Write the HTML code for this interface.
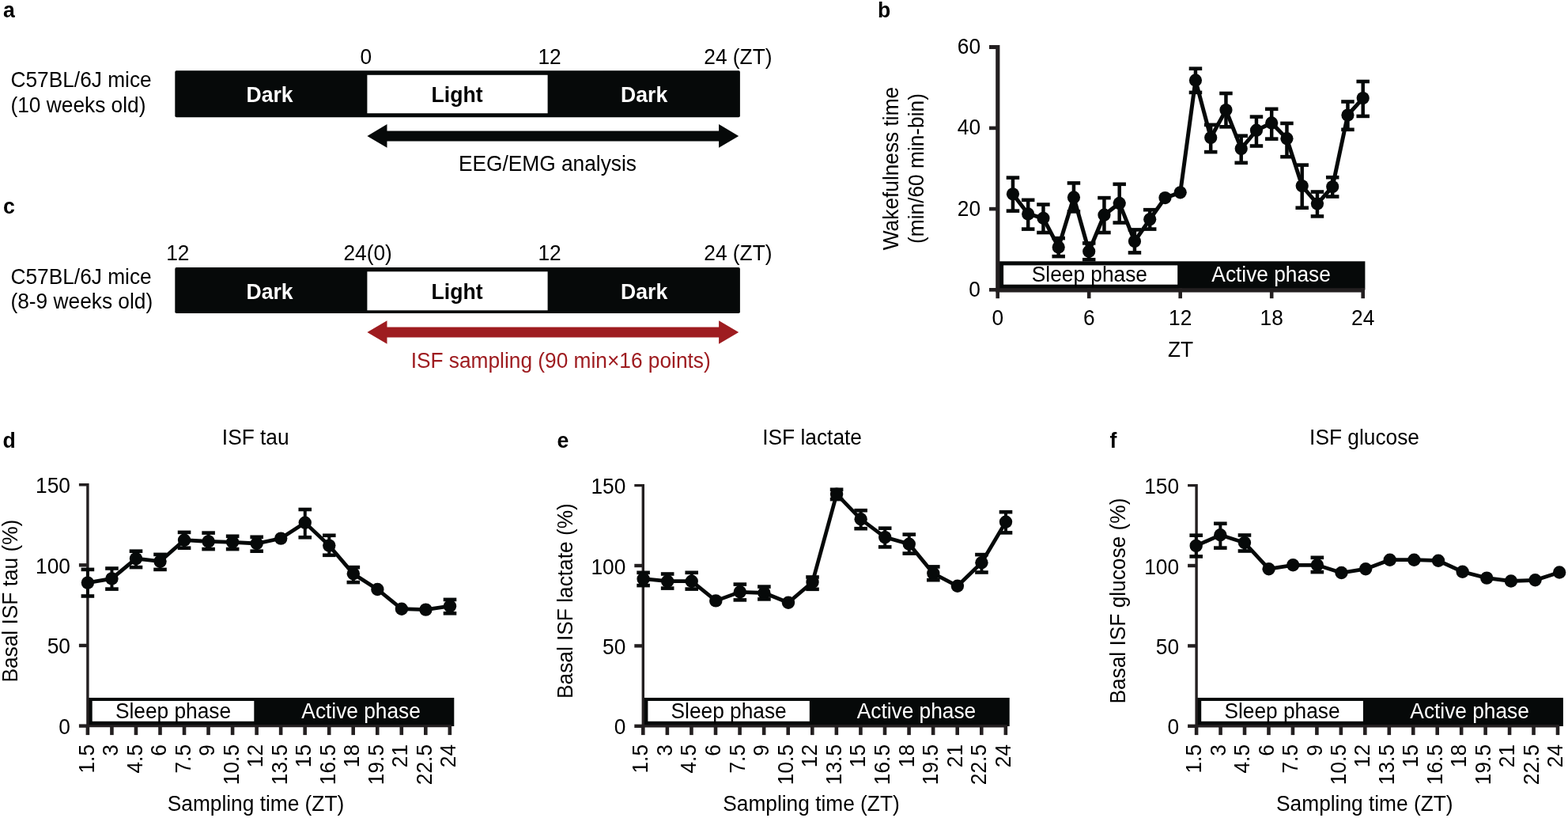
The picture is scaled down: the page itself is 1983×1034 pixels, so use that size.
<!DOCTYPE html>
<html><head><meta charset="utf-8"><title>Figure</title>
<style>
html,body{margin:0;padding:0;background:#fff;}
body{width:1983px;height:1034px;overflow:hidden;}
svg{display:block;font-family:'Liberation Sans', sans-serif;}
</style></head>
<body>
<svg width="1983" height="1034" viewBox="0 0 1983 1034">
<rect width="1983" height="1034" fill="#fff"/>
<text transform="translate(4.00,21.70) scale(0.9615,1)" text-anchor="start" font-size="27.66" font-weight="bold" fill="#000" >a</text>
<text transform="translate(13.50,110.20) scale(0.9615,1)" text-anchor="start" font-size="27.35" fill="#000" >C57BL/6J mice</text>
<text transform="translate(13.50,142.40) scale(0.9615,1)" text-anchor="start" font-size="27.35" fill="#000" >(10 weeks old)</text>
<text transform="translate(462.80,81.00) scale(0.9615,1)" text-anchor="middle" font-size="27.35" fill="#000" >0</text>
<text transform="translate(695.00,81.00) scale(0.9615,1)" text-anchor="middle" font-size="27.35" fill="#000" >12</text>
<text transform="translate(890.30,81.00) scale(0.9615,1)" text-anchor="start" font-size="27.35" fill="#000" >24 (ZT)</text>
<rect x="221.3" y="89.2" width="714.60" height="59.00" rx="1.8" fill="#060909"/>
<rect x="464.40" y="94.80" width="228.20" height="48.40" fill="#fff"/>
<text transform="translate(341.00,129.10) scale(0.9615,1)" text-anchor="middle" font-size="27.66" font-weight="bold" fill="#fff" >Dark</text>
<text transform="translate(578.10,129.10) scale(0.9615,1)" text-anchor="middle" font-size="27.66" font-weight="bold" fill="#000" >Light</text>
<text transform="translate(814.60,129.10) scale(0.9615,1)" text-anchor="middle" font-size="27.66" font-weight="bold" fill="#fff" >Dark</text>
<path d="M464.4,171.9 L489.5,157.1 L489.5,165.4 L909.1,165.4 L909.1,157.1 L934.2,171.9 L909.1,186.70000000000002 L909.1,178.4 L489.5,178.4 L489.5,186.70000000000002 Z" fill="#060909"/>
<text transform="translate(692.50,216.30) scale(0.9615,1)" text-anchor="middle" font-size="27.35" fill="#000" >EEG/EMG analysis</text>
<text transform="translate(4.00,270.30) scale(0.9615,1)" text-anchor="start" font-size="27.66" font-weight="bold" fill="#000" >c</text>
<text transform="translate(13.50,358.50) scale(0.9615,1)" text-anchor="start" font-size="27.35" fill="#000" >C57BL/6J mice</text>
<text transform="translate(13.50,390.20) scale(0.9615,1)" text-anchor="start" font-size="27.35" fill="#000" >(8-9 weeks old)</text>
<text transform="translate(224.80,328.80) scale(0.9615,1)" text-anchor="middle" font-size="27.35" fill="#000" >12</text>
<text transform="translate(434.50,328.80) scale(0.9615,1)" text-anchor="start" font-size="27.35" fill="#000" >24(0)</text>
<text transform="translate(695.00,328.80) scale(0.9615,1)" text-anchor="middle" font-size="27.35" fill="#000" >12</text>
<text transform="translate(890.30,328.80) scale(0.9615,1)" text-anchor="start" font-size="27.35" fill="#000" >24 (ZT)</text>
<rect x="221.3" y="338.1" width="714.60" height="58.00" rx="1.8" fill="#060909"/>
<rect x="464.40" y="343.30" width="228.20" height="49.00" fill="#fff"/>
<text transform="translate(341.00,378.20) scale(0.9615,1)" text-anchor="middle" font-size="27.66" font-weight="bold" fill="#fff" >Dark</text>
<text transform="translate(578.10,378.20) scale(0.9615,1)" text-anchor="middle" font-size="27.66" font-weight="bold" fill="#000" >Light</text>
<text transform="translate(814.60,378.20) scale(0.9615,1)" text-anchor="middle" font-size="27.66" font-weight="bold" fill="#fff" >Dark</text>
<path d="M464.4,420.0 L489.5,405.2 L489.5,413.5 L909.1,413.5 L909.1,405.2 L934.2,420.0 L909.1,434.8 L909.1,426.5 L489.5,426.5 L489.5,434.8 Z" fill="#9e1c20"/>
<text transform="translate(709.20,464.90) scale(0.9615,1)" text-anchor="middle" font-size="27.35" fill="#9e1c20" >ISF sampling (90 min×16 points)</text>
<text transform="translate(1110.00,21.70) scale(0.9615,1)" text-anchor="start" font-size="27.66" font-weight="bold" fill="#000" >b</text>
<rect x="1261.70" y="330.30" width="464.70" height="36.20" fill="#060909"/>
<rect x="1269.10" y="335.40" width="220.10" height="24.30" fill="#fff"/>
<text transform="translate(1377.90,356.00) scale(0.9615,1)" text-anchor="middle" font-size="27.35" fill="#000" >Sleep phase</text>
<text transform="translate(1607.60,356.00) scale(0.9615,1)" text-anchor="middle" font-size="27.35" fill="#fff" >Active phase</text>
<path d="M1251,59.5 H1261.8 V366.8 H1726" fill="none" stroke="#231f20" stroke-width="5.2"/>
<line x1="1251" y1="161.90" x2="1262" y2="161.90" stroke="#231f20" stroke-width="4.6"/>
<line x1="1251" y1="264.10" x2="1262" y2="264.10" stroke="#231f20" stroke-width="4.6"/>
<line x1="1251" y1="366.30" x2="1262" y2="366.30" stroke="#231f20" stroke-width="4.6"/>
<line x1="1261.70" y1="364" x2="1261.70" y2="377.2" stroke="#231f20" stroke-width="4.6"/>
<text transform="translate(1261.70,411.00) scale(0.9615,1)" text-anchor="middle" font-size="27.35" fill="#000" >0</text>
<line x1="1377.20" y1="364" x2="1377.20" y2="377.2" stroke="#231f20" stroke-width="4.6"/>
<text transform="translate(1377.20,411.00) scale(0.9615,1)" text-anchor="middle" font-size="27.35" fill="#000" >6</text>
<line x1="1492.70" y1="364" x2="1492.70" y2="377.2" stroke="#231f20" stroke-width="4.6"/>
<text transform="translate(1492.70,411.00) scale(0.9615,1)" text-anchor="middle" font-size="27.35" fill="#000" >12</text>
<line x1="1608.20" y1="364" x2="1608.20" y2="377.2" stroke="#231f20" stroke-width="4.6"/>
<text transform="translate(1608.20,411.00) scale(0.9615,1)" text-anchor="middle" font-size="27.35" fill="#000" >18</text>
<line x1="1723.70" y1="364" x2="1723.70" y2="377.2" stroke="#231f20" stroke-width="4.6"/>
<text transform="translate(1723.70,411.00) scale(0.9615,1)" text-anchor="middle" font-size="27.35" fill="#000" >24</text>
<text transform="translate(1240.00,68.20) scale(0.9615,1)" text-anchor="end" font-size="27.35" fill="#000" >60</text>
<text transform="translate(1240.00,170.40) scale(0.9615,1)" text-anchor="end" font-size="27.35" fill="#000" >40</text>
<text transform="translate(1240.00,272.60) scale(0.9615,1)" text-anchor="end" font-size="27.35" fill="#000" >20</text>
<text transform="translate(1240.00,374.80) scale(0.9615,1)" text-anchor="end" font-size="27.35" fill="#000" >0</text>
<text transform="translate(1493.00,450.90) scale(0.9615,1)" text-anchor="middle" font-size="27.35" fill="#000" >ZT</text>
<text transform="translate(1136.00,213.00) rotate(-90) scale(0.9615,1)" text-anchor="middle" font-size="27.35" fill="#000" >Wakefulness time</text>
<text transform="translate(1167.90,213.00) rotate(-90) scale(0.9615,1)" text-anchor="middle" font-size="27.35" fill="#000" >(min/60 min-bin)</text>
<line x1="1280.95" y1="224.60" x2="1280.95" y2="266.60" stroke="#060909" stroke-width="4.5"/>
<line x1="1272.70" y1="224.60" x2="1289.20" y2="224.60" stroke="#060909" stroke-width="4.6"/>
<line x1="1272.70" y1="266.60" x2="1289.20" y2="266.60" stroke="#060909" stroke-width="4.6"/>
<line x1="1300.20" y1="252.80" x2="1300.20" y2="289.60" stroke="#060909" stroke-width="4.5"/>
<line x1="1291.95" y1="252.80" x2="1308.45" y2="252.80" stroke="#060909" stroke-width="4.6"/>
<line x1="1291.95" y1="289.60" x2="1308.45" y2="289.60" stroke="#060909" stroke-width="4.6"/>
<line x1="1319.45" y1="258.50" x2="1319.45" y2="294.00" stroke="#060909" stroke-width="4.5"/>
<line x1="1311.20" y1="258.50" x2="1327.70" y2="258.50" stroke="#060909" stroke-width="4.6"/>
<line x1="1311.20" y1="294.00" x2="1327.70" y2="294.00" stroke="#060909" stroke-width="4.6"/>
<line x1="1338.70" y1="301.10" x2="1338.70" y2="324.10" stroke="#060909" stroke-width="4.5"/>
<line x1="1330.45" y1="301.10" x2="1346.95" y2="301.10" stroke="#060909" stroke-width="4.6"/>
<line x1="1330.45" y1="324.10" x2="1346.95" y2="324.10" stroke="#060909" stroke-width="4.6"/>
<line x1="1357.95" y1="231.40" x2="1357.95" y2="267.40" stroke="#060909" stroke-width="4.5"/>
<line x1="1349.70" y1="231.40" x2="1366.20" y2="231.40" stroke="#060909" stroke-width="4.6"/>
<line x1="1349.70" y1="267.40" x2="1366.20" y2="267.40" stroke="#060909" stroke-width="4.6"/>
<line x1="1377.20" y1="307.40" x2="1377.20" y2="328.20" stroke="#060909" stroke-width="4.5"/>
<line x1="1368.95" y1="307.40" x2="1385.45" y2="307.40" stroke="#060909" stroke-width="4.6"/>
<line x1="1368.95" y1="328.20" x2="1385.45" y2="328.20" stroke="#060909" stroke-width="4.6"/>
<line x1="1396.45" y1="250.10" x2="1396.45" y2="294.00" stroke="#060909" stroke-width="4.5"/>
<line x1="1388.20" y1="250.10" x2="1404.70" y2="250.10" stroke="#060909" stroke-width="4.6"/>
<line x1="1388.20" y1="294.00" x2="1404.70" y2="294.00" stroke="#060909" stroke-width="4.6"/>
<line x1="1415.70" y1="232.80" x2="1415.70" y2="281.50" stroke="#060909" stroke-width="4.5"/>
<line x1="1407.45" y1="232.80" x2="1423.95" y2="232.80" stroke="#060909" stroke-width="4.6"/>
<line x1="1407.45" y1="281.50" x2="1423.95" y2="281.50" stroke="#060909" stroke-width="4.6"/>
<line x1="1434.95" y1="290.40" x2="1434.95" y2="319.40" stroke="#060909" stroke-width="4.5"/>
<line x1="1426.70" y1="290.40" x2="1443.20" y2="290.40" stroke="#060909" stroke-width="4.6"/>
<line x1="1426.70" y1="319.40" x2="1443.20" y2="319.40" stroke="#060909" stroke-width="4.6"/>
<line x1="1454.20" y1="265.20" x2="1454.20" y2="289.60" stroke="#060909" stroke-width="4.5"/>
<line x1="1445.95" y1="265.20" x2="1462.45" y2="265.20" stroke="#060909" stroke-width="4.6"/>
<line x1="1445.95" y1="289.60" x2="1462.45" y2="289.60" stroke="#060909" stroke-width="4.6"/>
<line x1="1511.95" y1="86.70" x2="1511.95" y2="116.90" stroke="#060909" stroke-width="4.5"/>
<line x1="1503.70" y1="86.70" x2="1520.20" y2="86.70" stroke="#060909" stroke-width="4.6"/>
<line x1="1503.70" y1="116.90" x2="1520.20" y2="116.90" stroke="#060909" stroke-width="4.6"/>
<line x1="1531.20" y1="157.80" x2="1531.20" y2="192.10" stroke="#060909" stroke-width="4.5"/>
<line x1="1522.95" y1="157.80" x2="1539.45" y2="157.80" stroke="#060909" stroke-width="4.6"/>
<line x1="1522.95" y1="192.10" x2="1539.45" y2="192.10" stroke="#060909" stroke-width="4.6"/>
<line x1="1550.45" y1="118.00" x2="1550.45" y2="160.30" stroke="#060909" stroke-width="4.5"/>
<line x1="1542.20" y1="118.00" x2="1558.70" y2="118.00" stroke="#060909" stroke-width="4.6"/>
<line x1="1542.20" y1="160.30" x2="1558.70" y2="160.30" stroke="#060909" stroke-width="4.6"/>
<line x1="1569.70" y1="171.70" x2="1569.70" y2="205.80" stroke="#060909" stroke-width="4.5"/>
<line x1="1561.45" y1="171.70" x2="1577.95" y2="171.70" stroke="#060909" stroke-width="4.6"/>
<line x1="1561.45" y1="205.80" x2="1577.95" y2="205.80" stroke="#060909" stroke-width="4.6"/>
<line x1="1588.95" y1="147.60" x2="1588.95" y2="184.50" stroke="#060909" stroke-width="4.5"/>
<line x1="1580.70" y1="147.60" x2="1597.20" y2="147.60" stroke="#060909" stroke-width="4.6"/>
<line x1="1580.70" y1="184.50" x2="1597.20" y2="184.50" stroke="#060909" stroke-width="4.6"/>
<line x1="1608.20" y1="137.80" x2="1608.20" y2="175.60" stroke="#060909" stroke-width="4.5"/>
<line x1="1599.95" y1="137.80" x2="1616.45" y2="137.80" stroke="#060909" stroke-width="4.6"/>
<line x1="1599.95" y1="175.60" x2="1616.45" y2="175.60" stroke="#060909" stroke-width="4.6"/>
<line x1="1627.45" y1="155.90" x2="1627.45" y2="198.20" stroke="#060909" stroke-width="4.5"/>
<line x1="1619.20" y1="155.90" x2="1635.70" y2="155.90" stroke="#060909" stroke-width="4.6"/>
<line x1="1619.20" y1="198.20" x2="1635.70" y2="198.20" stroke="#060909" stroke-width="4.6"/>
<line x1="1646.70" y1="208.60" x2="1646.70" y2="262.70" stroke="#060909" stroke-width="4.5"/>
<line x1="1638.45" y1="208.60" x2="1654.95" y2="208.60" stroke="#060909" stroke-width="4.6"/>
<line x1="1638.45" y1="262.70" x2="1654.95" y2="262.70" stroke="#060909" stroke-width="4.6"/>
<line x1="1665.95" y1="242.50" x2="1665.95" y2="273.40" stroke="#060909" stroke-width="4.5"/>
<line x1="1657.70" y1="242.50" x2="1674.20" y2="242.50" stroke="#060909" stroke-width="4.6"/>
<line x1="1657.70" y1="273.40" x2="1674.20" y2="273.40" stroke="#060909" stroke-width="4.6"/>
<line x1="1685.20" y1="224.20" x2="1685.20" y2="248.50" stroke="#060909" stroke-width="4.5"/>
<line x1="1676.95" y1="224.20" x2="1693.45" y2="224.20" stroke="#060909" stroke-width="4.6"/>
<line x1="1676.95" y1="248.50" x2="1693.45" y2="248.50" stroke="#060909" stroke-width="4.6"/>
<line x1="1704.45" y1="128.50" x2="1704.45" y2="163.80" stroke="#060909" stroke-width="4.5"/>
<line x1="1696.20" y1="128.50" x2="1712.70" y2="128.50" stroke="#060909" stroke-width="4.6"/>
<line x1="1696.20" y1="163.80" x2="1712.70" y2="163.80" stroke="#060909" stroke-width="4.6"/>
<line x1="1723.70" y1="103.00" x2="1723.70" y2="146.90" stroke="#060909" stroke-width="4.5"/>
<line x1="1715.45" y1="103.00" x2="1731.95" y2="103.00" stroke="#060909" stroke-width="4.6"/>
<line x1="1715.45" y1="146.90" x2="1731.95" y2="146.90" stroke="#060909" stroke-width="4.6"/>
<polyline points="1280.95,245.30 1300.20,270.40 1319.45,275.80 1338.70,312.40 1357.95,249.40 1377.20,317.80 1396.45,271.70 1415.70,256.90 1434.95,304.90 1454.20,277.20 1473.45,250.10 1492.70,243.30 1511.95,101.40 1531.20,174.00 1550.45,139.00 1569.70,188.00 1588.95,164.70 1608.20,155.40 1627.45,175.20 1646.70,235.10 1665.95,257.60 1685.20,236.00 1704.45,145.50 1723.70,124.10" fill="none" stroke="#060909" stroke-width="5.0" stroke-linejoin="miter"/>
<circle cx="1280.95" cy="245.30" r="8.1" fill="#060909"/>
<circle cx="1300.20" cy="270.40" r="8.1" fill="#060909"/>
<circle cx="1319.45" cy="275.80" r="8.1" fill="#060909"/>
<circle cx="1338.70" cy="312.40" r="8.1" fill="#060909"/>
<circle cx="1357.95" cy="249.40" r="8.1" fill="#060909"/>
<circle cx="1377.20" cy="317.80" r="8.1" fill="#060909"/>
<circle cx="1396.45" cy="271.70" r="8.1" fill="#060909"/>
<circle cx="1415.70" cy="256.90" r="8.1" fill="#060909"/>
<circle cx="1434.95" cy="304.90" r="8.1" fill="#060909"/>
<circle cx="1454.20" cy="277.20" r="8.1" fill="#060909"/>
<circle cx="1473.45" cy="250.10" r="8.1" fill="#060909"/>
<circle cx="1492.70" cy="243.30" r="8.1" fill="#060909"/>
<circle cx="1511.95" cy="101.40" r="8.1" fill="#060909"/>
<circle cx="1531.20" cy="174.00" r="8.1" fill="#060909"/>
<circle cx="1550.45" cy="139.00" r="8.1" fill="#060909"/>
<circle cx="1569.70" cy="188.00" r="8.1" fill="#060909"/>
<circle cx="1588.95" cy="164.70" r="8.1" fill="#060909"/>
<circle cx="1608.20" cy="155.40" r="8.1" fill="#060909"/>
<circle cx="1627.45" cy="175.20" r="8.1" fill="#060909"/>
<circle cx="1646.70" cy="235.10" r="8.1" fill="#060909"/>
<circle cx="1665.95" cy="257.60" r="8.1" fill="#060909"/>
<circle cx="1685.20" cy="236.00" r="8.1" fill="#060909"/>
<circle cx="1704.45" cy="145.50" r="8.1" fill="#060909"/>
<circle cx="1723.70" cy="124.10" r="8.1" fill="#060909"/>
<text transform="translate(3.50,565.90) scale(0.9615,1)" text-anchor="start" font-size="27.66" font-weight="bold" fill="#000" >d</text>
<text transform="translate(323.20,562.30) scale(0.9615,1)" text-anchor="middle" font-size="27.35" fill="#000" >ISF tau</text>
<rect x="110.90" y="882.00" width="463.40" height="36.00" fill="#060909"/>
<rect x="116.70" y="886.00" width="204.60" height="25.80" fill="#fff"/>
<text transform="translate(219.00,907.80) scale(0.9615,1)" text-anchor="middle" font-size="27.35" fill="#000" >Sleep phase</text>
<text transform="translate(456.60,907.80) scale(0.9615,1)" text-anchor="middle" font-size="27.35" fill="#fff" >Active phase</text>
<path d="M99.9,612.7 H110.9 V917.59 H570.35" fill="none" stroke="#231f20" stroke-width="3.4"/>
<text transform="translate(88.90,623.20) scale(0.9615,1)" text-anchor="end" font-size="27.35" fill="#000" >150</text>
<line x1="99.9" y1="714.33" x2="110.9" y2="714.33" stroke="#231f20" stroke-width="4.4"/>
<text transform="translate(88.90,724.83) scale(0.9615,1)" text-anchor="end" font-size="27.35" fill="#000" >100</text>
<line x1="99.9" y1="815.96" x2="110.9" y2="815.96" stroke="#231f20" stroke-width="4.4"/>
<text transform="translate(88.90,826.46) scale(0.9615,1)" text-anchor="end" font-size="27.35" fill="#000" >50</text>
<line x1="99.9" y1="917.59" x2="110.9" y2="917.59" stroke="#231f20" stroke-width="4.4"/>
<text transform="translate(88.90,928.09) scale(0.9615,1)" text-anchor="end" font-size="27.35" fill="#000" >0</text>
<line x1="110.90" y1="916.59" x2="110.90" y2="929.1" stroke="#231f20" stroke-width="4.6"/>
<text transform="translate(118.50,941.00) rotate(-90) scale(0.9615,1)" text-anchor="end" font-size="27.35" fill="#000" >1.5</text>
<line x1="141.43" y1="916.59" x2="141.43" y2="929.1" stroke="#231f20" stroke-width="4.6"/>
<text transform="translate(149.03,941.00) rotate(-90) scale(0.9615,1)" text-anchor="end" font-size="27.35" fill="#000" >3</text>
<line x1="171.96" y1="916.59" x2="171.96" y2="929.1" stroke="#231f20" stroke-width="4.6"/>
<text transform="translate(179.56,941.00) rotate(-90) scale(0.9615,1)" text-anchor="end" font-size="27.35" fill="#000" >4.5</text>
<line x1="202.49" y1="916.59" x2="202.49" y2="929.1" stroke="#231f20" stroke-width="4.6"/>
<text transform="translate(210.09,941.00) rotate(-90) scale(0.9615,1)" text-anchor="end" font-size="27.35" fill="#000" >6</text>
<line x1="233.02" y1="916.59" x2="233.02" y2="929.1" stroke="#231f20" stroke-width="4.6"/>
<text transform="translate(240.62,941.00) rotate(-90) scale(0.9615,1)" text-anchor="end" font-size="27.35" fill="#000" >7.5</text>
<line x1="263.55" y1="916.59" x2="263.55" y2="929.1" stroke="#231f20" stroke-width="4.6"/>
<text transform="translate(271.15,941.00) rotate(-90) scale(0.9615,1)" text-anchor="end" font-size="27.35" fill="#000" >9</text>
<line x1="294.08" y1="916.59" x2="294.08" y2="929.1" stroke="#231f20" stroke-width="4.6"/>
<text transform="translate(301.68,941.00) rotate(-90) scale(0.9615,1)" text-anchor="end" font-size="27.35" fill="#000" >10.5</text>
<line x1="324.61" y1="916.59" x2="324.61" y2="929.1" stroke="#231f20" stroke-width="4.6"/>
<text transform="translate(332.21,941.00) rotate(-90) scale(0.9615,1)" text-anchor="end" font-size="27.35" fill="#000" >12</text>
<line x1="355.14" y1="916.59" x2="355.14" y2="929.1" stroke="#231f20" stroke-width="4.6"/>
<text transform="translate(362.74,941.00) rotate(-90) scale(0.9615,1)" text-anchor="end" font-size="27.35" fill="#000" >13.5</text>
<line x1="385.67" y1="916.59" x2="385.67" y2="929.1" stroke="#231f20" stroke-width="4.6"/>
<text transform="translate(393.27,941.00) rotate(-90) scale(0.9615,1)" text-anchor="end" font-size="27.35" fill="#000" >15</text>
<line x1="416.20" y1="916.59" x2="416.20" y2="929.1" stroke="#231f20" stroke-width="4.6"/>
<text transform="translate(423.80,941.00) rotate(-90) scale(0.9615,1)" text-anchor="end" font-size="27.35" fill="#000" >16.5</text>
<line x1="446.73" y1="916.59" x2="446.73" y2="929.1" stroke="#231f20" stroke-width="4.6"/>
<text transform="translate(454.33,941.00) rotate(-90) scale(0.9615,1)" text-anchor="end" font-size="27.35" fill="#000" >18</text>
<line x1="477.26" y1="916.59" x2="477.26" y2="929.1" stroke="#231f20" stroke-width="4.6"/>
<text transform="translate(484.86,941.00) rotate(-90) scale(0.9615,1)" text-anchor="end" font-size="27.35" fill="#000" >19.5</text>
<line x1="507.79" y1="916.59" x2="507.79" y2="929.1" stroke="#231f20" stroke-width="4.6"/>
<text transform="translate(515.39,941.00) rotate(-90) scale(0.9615,1)" text-anchor="end" font-size="27.35" fill="#000" >21</text>
<line x1="538.32" y1="916.59" x2="538.32" y2="929.1" stroke="#231f20" stroke-width="4.6"/>
<text transform="translate(545.92,941.00) rotate(-90) scale(0.9615,1)" text-anchor="end" font-size="27.35" fill="#000" >22.5</text>
<line x1="568.85" y1="916.59" x2="568.85" y2="929.1" stroke="#231f20" stroke-width="4.6"/>
<text transform="translate(576.45,941.00) rotate(-90) scale(0.9615,1)" text-anchor="end" font-size="27.35" fill="#000" >24</text>
<text transform="translate(323.50,1025.20) scale(0.9615,1)" text-anchor="middle" font-size="27.35" fill="#000" >Sampling time (ZT)</text>
<text transform="translate(22.30,759.60) rotate(-90) scale(0.9615,1)" text-anchor="middle" font-size="27.35" fill="#000" >Basal ISF tau (%)</text>
<line x1="110.90" y1="719.90" x2="110.90" y2="753.50" stroke="#060909" stroke-width="4.0"/>
<line x1="102.60" y1="719.90" x2="119.20" y2="719.90" stroke="#060909" stroke-width="4.6"/>
<line x1="102.60" y1="753.50" x2="119.20" y2="753.50" stroke="#060909" stroke-width="4.6"/>
<line x1="141.44" y1="718.50" x2="141.44" y2="744.60" stroke="#060909" stroke-width="4.0"/>
<line x1="133.14" y1="718.50" x2="149.74" y2="718.50" stroke="#060909" stroke-width="4.6"/>
<line x1="133.14" y1="744.60" x2="149.74" y2="744.60" stroke="#060909" stroke-width="4.6"/>
<line x1="171.98" y1="696.70" x2="171.98" y2="717.10" stroke="#060909" stroke-width="4.0"/>
<line x1="163.68" y1="696.70" x2="180.28" y2="696.70" stroke="#060909" stroke-width="4.6"/>
<line x1="163.68" y1="717.10" x2="180.28" y2="717.10" stroke="#060909" stroke-width="4.6"/>
<line x1="202.52" y1="700.90" x2="202.52" y2="719.90" stroke="#060909" stroke-width="4.0"/>
<line x1="194.22" y1="700.90" x2="210.82" y2="700.90" stroke="#060909" stroke-width="4.6"/>
<line x1="194.22" y1="719.90" x2="210.82" y2="719.90" stroke="#060909" stroke-width="4.6"/>
<line x1="233.06" y1="672.90" x2="233.06" y2="692.70" stroke="#060909" stroke-width="4.0"/>
<line x1="224.76" y1="672.90" x2="241.36" y2="672.90" stroke="#060909" stroke-width="4.6"/>
<line x1="224.76" y1="692.70" x2="241.36" y2="692.70" stroke="#060909" stroke-width="4.6"/>
<line x1="263.60" y1="673.60" x2="263.60" y2="694.10" stroke="#060909" stroke-width="4.0"/>
<line x1="255.30" y1="673.60" x2="271.90" y2="673.60" stroke="#060909" stroke-width="4.6"/>
<line x1="255.30" y1="694.10" x2="271.90" y2="694.10" stroke="#060909" stroke-width="4.6"/>
<line x1="294.14" y1="677.80" x2="294.14" y2="694.10" stroke="#060909" stroke-width="4.0"/>
<line x1="285.84" y1="677.80" x2="302.44" y2="677.80" stroke="#060909" stroke-width="4.6"/>
<line x1="285.84" y1="694.10" x2="302.44" y2="694.10" stroke="#060909" stroke-width="4.6"/>
<line x1="324.68" y1="678.80" x2="324.68" y2="696.70" stroke="#060909" stroke-width="4.0"/>
<line x1="316.38" y1="678.80" x2="332.98" y2="678.80" stroke="#060909" stroke-width="4.6"/>
<line x1="316.38" y1="696.70" x2="332.98" y2="696.70" stroke="#060909" stroke-width="4.6"/>
<line x1="385.76" y1="644.00" x2="385.76" y2="679.30" stroke="#060909" stroke-width="4.0"/>
<line x1="377.46" y1="644.00" x2="394.06" y2="644.00" stroke="#060909" stroke-width="4.6"/>
<line x1="377.46" y1="679.30" x2="394.06" y2="679.30" stroke="#060909" stroke-width="4.6"/>
<line x1="416.30" y1="676.80" x2="416.30" y2="701.80" stroke="#060909" stroke-width="4.0"/>
<line x1="408.00" y1="676.80" x2="424.60" y2="676.80" stroke="#060909" stroke-width="4.6"/>
<line x1="408.00" y1="701.80" x2="424.60" y2="701.80" stroke="#060909" stroke-width="4.6"/>
<line x1="446.84" y1="717.10" x2="446.84" y2="736.10" stroke="#060909" stroke-width="4.0"/>
<line x1="438.54" y1="717.10" x2="455.14" y2="717.10" stroke="#060909" stroke-width="4.6"/>
<line x1="438.54" y1="736.10" x2="455.14" y2="736.10" stroke="#060909" stroke-width="4.6"/>
<line x1="569.00" y1="757.90" x2="569.00" y2="775.30" stroke="#060909" stroke-width="4.0"/>
<line x1="560.70" y1="757.90" x2="577.30" y2="757.90" stroke="#060909" stroke-width="4.6"/>
<line x1="560.70" y1="775.30" x2="577.30" y2="775.30" stroke="#060909" stroke-width="4.6"/>
<polyline points="110.90,736.60 141.44,731.40 171.98,706.10 202.52,709.60 233.06,682.70 263.60,684.40 294.14,685.30 324.68,687.00 355.22,680.60 385.76,660.80 416.30,689.60 446.84,725.30 477.38,745.00 507.92,769.70 538.46,770.60 569.00,766.20" fill="none" stroke="#060909" stroke-width="4.8" stroke-linejoin="miter"/>
<circle cx="110.90" cy="736.60" r="8.2" fill="#060909"/>
<circle cx="141.44" cy="731.40" r="8.2" fill="#060909"/>
<circle cx="171.98" cy="706.10" r="8.2" fill="#060909"/>
<circle cx="202.52" cy="709.60" r="8.2" fill="#060909"/>
<circle cx="233.06" cy="682.70" r="8.2" fill="#060909"/>
<circle cx="263.60" cy="684.40" r="8.2" fill="#060909"/>
<circle cx="294.14" cy="685.30" r="8.2" fill="#060909"/>
<circle cx="324.68" cy="687.00" r="8.2" fill="#060909"/>
<circle cx="355.22" cy="680.60" r="8.2" fill="#060909"/>
<circle cx="385.76" cy="660.80" r="8.2" fill="#060909"/>
<circle cx="416.30" cy="689.60" r="8.2" fill="#060909"/>
<circle cx="446.84" cy="725.30" r="8.2" fill="#060909"/>
<circle cx="477.38" cy="745.00" r="8.2" fill="#060909"/>
<circle cx="507.92" cy="769.70" r="8.2" fill="#060909"/>
<circle cx="538.46" cy="770.60" r="8.2" fill="#060909"/>
<circle cx="569.00" cy="766.20" r="8.2" fill="#060909"/>
<text transform="translate(704.50,565.90) scale(0.9615,1)" text-anchor="start" font-size="27.66" font-weight="bold" fill="#000" >e</text>
<text transform="translate(1027.10,562.30) scale(0.9615,1)" text-anchor="middle" font-size="27.35" fill="#000" >ISF lactate</text>
<rect x="813.30" y="882.00" width="463.40" height="36.00" fill="#060909"/>
<rect x="819.40" y="886.00" width="204.40" height="25.80" fill="#fff"/>
<text transform="translate(921.60,907.80) scale(0.9615,1)" text-anchor="middle" font-size="27.35" fill="#000" >Sleep phase</text>
<text transform="translate(1159.00,907.80) scale(0.9615,1)" text-anchor="middle" font-size="27.35" fill="#fff" >Active phase</text>
<path d="M802.3,613.6 H813.3 V917.80 H1273.35" fill="none" stroke="#231f20" stroke-width="3.4"/>
<text transform="translate(791.30,624.10) scale(0.9615,1)" text-anchor="end" font-size="27.35" fill="#000" >150</text>
<line x1="802.3" y1="715.00" x2="813.3" y2="715.00" stroke="#231f20" stroke-width="4.4"/>
<text transform="translate(791.30,725.50) scale(0.9615,1)" text-anchor="end" font-size="27.35" fill="#000" >100</text>
<line x1="802.3" y1="816.40" x2="813.3" y2="816.40" stroke="#231f20" stroke-width="4.4"/>
<text transform="translate(791.30,826.90) scale(0.9615,1)" text-anchor="end" font-size="27.35" fill="#000" >50</text>
<line x1="802.3" y1="917.80" x2="813.3" y2="917.80" stroke="#231f20" stroke-width="4.4"/>
<text transform="translate(791.30,928.30) scale(0.9615,1)" text-anchor="end" font-size="27.35" fill="#000" >0</text>
<line x1="813.30" y1="916.80" x2="813.30" y2="929.1" stroke="#231f20" stroke-width="4.6"/>
<text transform="translate(819.30,941.00) rotate(-90) scale(0.9615,1)" text-anchor="end" font-size="27.35" fill="#000" >1.5</text>
<line x1="843.87" y1="916.80" x2="843.87" y2="929.1" stroke="#231f20" stroke-width="4.6"/>
<text transform="translate(849.87,941.00) rotate(-90) scale(0.9615,1)" text-anchor="end" font-size="27.35" fill="#000" >3</text>
<line x1="874.44" y1="916.80" x2="874.44" y2="929.1" stroke="#231f20" stroke-width="4.6"/>
<text transform="translate(880.44,941.00) rotate(-90) scale(0.9615,1)" text-anchor="end" font-size="27.35" fill="#000" >4.5</text>
<line x1="905.01" y1="916.80" x2="905.01" y2="929.1" stroke="#231f20" stroke-width="4.6"/>
<text transform="translate(911.01,941.00) rotate(-90) scale(0.9615,1)" text-anchor="end" font-size="27.35" fill="#000" >6</text>
<line x1="935.58" y1="916.80" x2="935.58" y2="929.1" stroke="#231f20" stroke-width="4.6"/>
<text transform="translate(941.58,941.00) rotate(-90) scale(0.9615,1)" text-anchor="end" font-size="27.35" fill="#000" >7.5</text>
<line x1="966.15" y1="916.80" x2="966.15" y2="929.1" stroke="#231f20" stroke-width="4.6"/>
<text transform="translate(972.15,941.00) rotate(-90) scale(0.9615,1)" text-anchor="end" font-size="27.35" fill="#000" >9</text>
<line x1="996.72" y1="916.80" x2="996.72" y2="929.1" stroke="#231f20" stroke-width="4.6"/>
<text transform="translate(1002.72,941.00) rotate(-90) scale(0.9615,1)" text-anchor="end" font-size="27.35" fill="#000" >10.5</text>
<line x1="1027.29" y1="916.80" x2="1027.29" y2="929.1" stroke="#231f20" stroke-width="4.6"/>
<text transform="translate(1033.29,941.00) rotate(-90) scale(0.9615,1)" text-anchor="end" font-size="27.35" fill="#000" >12</text>
<line x1="1057.86" y1="916.80" x2="1057.86" y2="929.1" stroke="#231f20" stroke-width="4.6"/>
<text transform="translate(1063.86,941.00) rotate(-90) scale(0.9615,1)" text-anchor="end" font-size="27.35" fill="#000" >13.5</text>
<line x1="1088.43" y1="916.80" x2="1088.43" y2="929.1" stroke="#231f20" stroke-width="4.6"/>
<text transform="translate(1094.43,941.00) rotate(-90) scale(0.9615,1)" text-anchor="end" font-size="27.35" fill="#000" >15</text>
<line x1="1119.00" y1="916.80" x2="1119.00" y2="929.1" stroke="#231f20" stroke-width="4.6"/>
<text transform="translate(1125.00,941.00) rotate(-90) scale(0.9615,1)" text-anchor="end" font-size="27.35" fill="#000" >16.5</text>
<line x1="1149.57" y1="916.80" x2="1149.57" y2="929.1" stroke="#231f20" stroke-width="4.6"/>
<text transform="translate(1155.57,941.00) rotate(-90) scale(0.9615,1)" text-anchor="end" font-size="27.35" fill="#000" >18</text>
<line x1="1180.14" y1="916.80" x2="1180.14" y2="929.1" stroke="#231f20" stroke-width="4.6"/>
<text transform="translate(1186.14,941.00) rotate(-90) scale(0.9615,1)" text-anchor="end" font-size="27.35" fill="#000" >19.5</text>
<line x1="1210.71" y1="916.80" x2="1210.71" y2="929.1" stroke="#231f20" stroke-width="4.6"/>
<text transform="translate(1216.71,941.00) rotate(-90) scale(0.9615,1)" text-anchor="end" font-size="27.35" fill="#000" >21</text>
<line x1="1241.28" y1="916.80" x2="1241.28" y2="929.1" stroke="#231f20" stroke-width="4.6"/>
<text transform="translate(1247.28,941.00) rotate(-90) scale(0.9615,1)" text-anchor="end" font-size="27.35" fill="#000" >22.5</text>
<line x1="1271.85" y1="916.80" x2="1271.85" y2="929.1" stroke="#231f20" stroke-width="4.6"/>
<text transform="translate(1277.85,941.00) rotate(-90) scale(0.9615,1)" text-anchor="end" font-size="27.35" fill="#000" >24</text>
<text transform="translate(1026.00,1025.20) scale(0.9615,1)" text-anchor="middle" font-size="27.35" fill="#000" >Sampling time (ZT)</text>
<text transform="translate(723.60,759.60) rotate(-90) scale(0.9615,1)" text-anchor="middle" font-size="27.35" fill="#000" >Basal ISF lactate (%)</text>
<line x1="813.60" y1="723.80" x2="813.60" y2="740.10" stroke="#060909" stroke-width="4.0"/>
<line x1="805.30" y1="723.80" x2="821.90" y2="723.80" stroke="#060909" stroke-width="4.6"/>
<line x1="805.30" y1="740.10" x2="821.90" y2="740.10" stroke="#060909" stroke-width="4.6"/>
<line x1="844.16" y1="725.50" x2="844.16" y2="743.60" stroke="#060909" stroke-width="4.0"/>
<line x1="835.86" y1="725.50" x2="852.46" y2="725.50" stroke="#060909" stroke-width="4.6"/>
<line x1="835.86" y1="743.60" x2="852.46" y2="743.60" stroke="#060909" stroke-width="4.6"/>
<line x1="874.72" y1="723.80" x2="874.72" y2="744.60" stroke="#060909" stroke-width="4.0"/>
<line x1="866.42" y1="723.80" x2="883.02" y2="723.80" stroke="#060909" stroke-width="4.6"/>
<line x1="866.42" y1="744.60" x2="883.02" y2="744.60" stroke="#060909" stroke-width="4.6"/>
<line x1="935.84" y1="738.60" x2="935.84" y2="758.40" stroke="#060909" stroke-width="4.0"/>
<line x1="927.54" y1="738.60" x2="944.14" y2="738.60" stroke="#060909" stroke-width="4.6"/>
<line x1="927.54" y1="758.40" x2="944.14" y2="758.40" stroke="#060909" stroke-width="4.6"/>
<line x1="966.40" y1="741.60" x2="966.40" y2="757.40" stroke="#060909" stroke-width="4.0"/>
<line x1="958.10" y1="741.60" x2="974.70" y2="741.60" stroke="#060909" stroke-width="4.6"/>
<line x1="958.10" y1="757.40" x2="974.70" y2="757.40" stroke="#060909" stroke-width="4.6"/>
<line x1="1027.52" y1="729.50" x2="1027.52" y2="744.80" stroke="#060909" stroke-width="4.0"/>
<line x1="1019.22" y1="729.50" x2="1035.82" y2="729.50" stroke="#060909" stroke-width="4.6"/>
<line x1="1019.22" y1="744.80" x2="1035.82" y2="744.80" stroke="#060909" stroke-width="4.6"/>
<line x1="1058.08" y1="618.80" x2="1058.08" y2="631.10" stroke="#060909" stroke-width="4.0"/>
<line x1="1049.78" y1="618.80" x2="1066.38" y2="618.80" stroke="#060909" stroke-width="4.6"/>
<line x1="1049.78" y1="631.10" x2="1066.38" y2="631.10" stroke="#060909" stroke-width="4.6"/>
<line x1="1088.64" y1="645.20" x2="1088.64" y2="668.20" stroke="#060909" stroke-width="4.0"/>
<line x1="1080.34" y1="645.20" x2="1096.94" y2="645.20" stroke="#060909" stroke-width="4.6"/>
<line x1="1080.34" y1="668.20" x2="1096.94" y2="668.20" stroke="#060909" stroke-width="4.6"/>
<line x1="1119.20" y1="667.70" x2="1119.20" y2="691.40" stroke="#060909" stroke-width="4.0"/>
<line x1="1110.90" y1="667.70" x2="1127.50" y2="667.70" stroke="#060909" stroke-width="4.6"/>
<line x1="1110.90" y1="691.40" x2="1127.50" y2="691.40" stroke="#060909" stroke-width="4.6"/>
<line x1="1149.76" y1="675.60" x2="1149.76" y2="699.60" stroke="#060909" stroke-width="4.0"/>
<line x1="1141.46" y1="675.60" x2="1158.06" y2="675.60" stroke="#060909" stroke-width="4.6"/>
<line x1="1141.46" y1="699.60" x2="1158.06" y2="699.60" stroke="#060909" stroke-width="4.6"/>
<line x1="1180.32" y1="716.40" x2="1180.32" y2="733.20" stroke="#060909" stroke-width="4.0"/>
<line x1="1172.02" y1="716.40" x2="1188.62" y2="716.40" stroke="#060909" stroke-width="4.6"/>
<line x1="1172.02" y1="733.20" x2="1188.62" y2="733.20" stroke="#060909" stroke-width="4.6"/>
<line x1="1241.44" y1="701.10" x2="1241.44" y2="723.50" stroke="#060909" stroke-width="4.0"/>
<line x1="1233.14" y1="701.10" x2="1249.74" y2="701.10" stroke="#060909" stroke-width="4.6"/>
<line x1="1233.14" y1="723.50" x2="1249.74" y2="723.50" stroke="#060909" stroke-width="4.6"/>
<line x1="1272.00" y1="647.20" x2="1272.00" y2="673.40" stroke="#060909" stroke-width="4.0"/>
<line x1="1263.70" y1="647.20" x2="1280.30" y2="647.20" stroke="#060909" stroke-width="4.6"/>
<line x1="1263.70" y1="673.40" x2="1280.30" y2="673.40" stroke="#060909" stroke-width="4.6"/>
<polyline points="813.60,731.70 844.16,734.70 874.72,734.70 905.28,759.40 935.84,748.30 966.40,749.50 996.96,761.80 1027.52,735.90 1058.08,624.70 1088.64,656.30 1119.20,679.10 1149.76,687.70 1180.32,724.80 1210.88,740.80 1241.44,711.20 1272.00,659.80" fill="none" stroke="#060909" stroke-width="4.8" stroke-linejoin="miter"/>
<circle cx="813.60" cy="731.70" r="8.2" fill="#060909"/>
<circle cx="844.16" cy="734.70" r="8.2" fill="#060909"/>
<circle cx="874.72" cy="734.70" r="8.2" fill="#060909"/>
<circle cx="905.28" cy="759.40" r="8.2" fill="#060909"/>
<circle cx="935.84" cy="748.30" r="8.2" fill="#060909"/>
<circle cx="966.40" cy="749.50" r="8.2" fill="#060909"/>
<circle cx="996.96" cy="761.80" r="8.2" fill="#060909"/>
<circle cx="1027.52" cy="735.90" r="8.2" fill="#060909"/>
<circle cx="1058.08" cy="624.70" r="8.2" fill="#060909"/>
<circle cx="1088.64" cy="656.30" r="8.2" fill="#060909"/>
<circle cx="1119.20" cy="679.10" r="8.2" fill="#060909"/>
<circle cx="1149.76" cy="687.70" r="8.2" fill="#060909"/>
<circle cx="1180.32" cy="724.80" r="8.2" fill="#060909"/>
<circle cx="1210.88" cy="740.80" r="8.2" fill="#060909"/>
<circle cx="1241.44" cy="711.20" r="8.2" fill="#060909"/>
<circle cx="1272.00" cy="659.80" r="8.2" fill="#060909"/>
<text transform="translate(1403.50,565.90) scale(0.9615,1)" text-anchor="start" font-size="27.66" font-weight="bold" fill="#000" >f</text>
<text transform="translate(1725.50,562.30) scale(0.9615,1)" text-anchor="middle" font-size="27.35" fill="#000" >ISF glucose</text>
<rect x="1513.10" y="882.00" width="463.80" height="36.00" fill="#060909"/>
<rect x="1519.20" y="886.00" width="204.70" height="25.80" fill="#fff"/>
<text transform="translate(1621.55,907.80) scale(0.9615,1)" text-anchor="middle" font-size="27.35" fill="#000" >Sleep phase</text>
<text transform="translate(1858.60,907.80) scale(0.9615,1)" text-anchor="middle" font-size="27.35" fill="#fff" >Active phase</text>
<path d="M1502.1,613.6 H1513.1 V917.80 H1971.50" fill="none" stroke="#231f20" stroke-width="3.4"/>
<text transform="translate(1491.10,624.10) scale(0.9615,1)" text-anchor="end" font-size="27.35" fill="#000" >150</text>
<line x1="1502.1" y1="715.00" x2="1513.1" y2="715.00" stroke="#231f20" stroke-width="4.4"/>
<text transform="translate(1491.10,725.50) scale(0.9615,1)" text-anchor="end" font-size="27.35" fill="#000" >100</text>
<line x1="1502.1" y1="816.40" x2="1513.1" y2="816.40" stroke="#231f20" stroke-width="4.4"/>
<text transform="translate(1491.10,826.90) scale(0.9615,1)" text-anchor="end" font-size="27.35" fill="#000" >50</text>
<line x1="1502.1" y1="917.80" x2="1513.1" y2="917.80" stroke="#231f20" stroke-width="4.4"/>
<text transform="translate(1491.10,928.30) scale(0.9615,1)" text-anchor="end" font-size="27.35" fill="#000" >0</text>
<line x1="1513.10" y1="916.80" x2="1513.10" y2="929.1" stroke="#231f20" stroke-width="4.6"/>
<text transform="translate(1519.20,941.00) rotate(-90) scale(0.9615,1)" text-anchor="end" font-size="27.35" fill="#000" >1.5</text>
<line x1="1543.56" y1="916.80" x2="1543.56" y2="929.1" stroke="#231f20" stroke-width="4.6"/>
<text transform="translate(1549.66,941.00) rotate(-90) scale(0.9615,1)" text-anchor="end" font-size="27.35" fill="#000" >3</text>
<line x1="1574.02" y1="916.80" x2="1574.02" y2="929.1" stroke="#231f20" stroke-width="4.6"/>
<text transform="translate(1580.12,941.00) rotate(-90) scale(0.9615,1)" text-anchor="end" font-size="27.35" fill="#000" >4.5</text>
<line x1="1604.48" y1="916.80" x2="1604.48" y2="929.1" stroke="#231f20" stroke-width="4.6"/>
<text transform="translate(1610.58,941.00) rotate(-90) scale(0.9615,1)" text-anchor="end" font-size="27.35" fill="#000" >6</text>
<line x1="1634.94" y1="916.80" x2="1634.94" y2="929.1" stroke="#231f20" stroke-width="4.6"/>
<text transform="translate(1641.04,941.00) rotate(-90) scale(0.9615,1)" text-anchor="end" font-size="27.35" fill="#000" >7.5</text>
<line x1="1665.40" y1="916.80" x2="1665.40" y2="929.1" stroke="#231f20" stroke-width="4.6"/>
<text transform="translate(1671.50,941.00) rotate(-90) scale(0.9615,1)" text-anchor="end" font-size="27.35" fill="#000" >9</text>
<line x1="1695.86" y1="916.80" x2="1695.86" y2="929.1" stroke="#231f20" stroke-width="4.6"/>
<text transform="translate(1701.96,941.00) rotate(-90) scale(0.9615,1)" text-anchor="end" font-size="27.35" fill="#000" >10.5</text>
<line x1="1726.32" y1="916.80" x2="1726.32" y2="929.1" stroke="#231f20" stroke-width="4.6"/>
<text transform="translate(1732.42,941.00) rotate(-90) scale(0.9615,1)" text-anchor="end" font-size="27.35" fill="#000" >12</text>
<line x1="1756.78" y1="916.80" x2="1756.78" y2="929.1" stroke="#231f20" stroke-width="4.6"/>
<text transform="translate(1762.88,941.00) rotate(-90) scale(0.9615,1)" text-anchor="end" font-size="27.35" fill="#000" >13.5</text>
<line x1="1787.24" y1="916.80" x2="1787.24" y2="929.1" stroke="#231f20" stroke-width="4.6"/>
<text transform="translate(1793.34,941.00) rotate(-90) scale(0.9615,1)" text-anchor="end" font-size="27.35" fill="#000" >15</text>
<line x1="1817.70" y1="916.80" x2="1817.70" y2="929.1" stroke="#231f20" stroke-width="4.6"/>
<text transform="translate(1823.80,941.00) rotate(-90) scale(0.9615,1)" text-anchor="end" font-size="27.35" fill="#000" >16.5</text>
<line x1="1848.16" y1="916.80" x2="1848.16" y2="929.1" stroke="#231f20" stroke-width="4.6"/>
<text transform="translate(1854.26,941.00) rotate(-90) scale(0.9615,1)" text-anchor="end" font-size="27.35" fill="#000" >18</text>
<line x1="1878.62" y1="916.80" x2="1878.62" y2="929.1" stroke="#231f20" stroke-width="4.6"/>
<text transform="translate(1884.72,941.00) rotate(-90) scale(0.9615,1)" text-anchor="end" font-size="27.35" fill="#000" >19.5</text>
<line x1="1909.08" y1="916.80" x2="1909.08" y2="929.1" stroke="#231f20" stroke-width="4.6"/>
<text transform="translate(1915.18,941.00) rotate(-90) scale(0.9615,1)" text-anchor="end" font-size="27.35" fill="#000" >21</text>
<line x1="1939.54" y1="916.80" x2="1939.54" y2="929.1" stroke="#231f20" stroke-width="4.6"/>
<text transform="translate(1945.64,941.00) rotate(-90) scale(0.9615,1)" text-anchor="end" font-size="27.35" fill="#000" >22.5</text>
<line x1="1970.00" y1="916.80" x2="1970.00" y2="929.1" stroke="#231f20" stroke-width="4.6"/>
<text transform="translate(1976.10,941.00) rotate(-90) scale(0.9615,1)" text-anchor="end" font-size="27.35" fill="#000" >24</text>
<text transform="translate(1725.80,1025.20) scale(0.9615,1)" text-anchor="middle" font-size="27.35" fill="#000" >Sampling time (ZT)</text>
<text transform="translate(1423.00,759.60) rotate(-90) scale(0.9615,1)" text-anchor="middle" font-size="27.35" fill="#000" >Basal ISF glucose (%)</text>
<line x1="1512.70" y1="676.70" x2="1512.70" y2="703.40" stroke="#060909" stroke-width="4.0"/>
<line x1="1504.40" y1="676.70" x2="1521.00" y2="676.70" stroke="#060909" stroke-width="4.6"/>
<line x1="1504.40" y1="703.40" x2="1521.00" y2="703.40" stroke="#060909" stroke-width="4.6"/>
<line x1="1543.33" y1="661.80" x2="1543.33" y2="692.60" stroke="#060909" stroke-width="4.0"/>
<line x1="1535.03" y1="661.80" x2="1551.63" y2="661.80" stroke="#060909" stroke-width="4.6"/>
<line x1="1535.03" y1="692.60" x2="1551.63" y2="692.60" stroke="#060909" stroke-width="4.6"/>
<line x1="1573.96" y1="676.50" x2="1573.96" y2="696.50" stroke="#060909" stroke-width="4.0"/>
<line x1="1565.66" y1="676.50" x2="1582.26" y2="676.50" stroke="#060909" stroke-width="4.6"/>
<line x1="1565.66" y1="696.50" x2="1582.26" y2="696.50" stroke="#060909" stroke-width="4.6"/>
<line x1="1665.85" y1="704.80" x2="1665.85" y2="723.10" stroke="#060909" stroke-width="4.0"/>
<line x1="1657.55" y1="704.80" x2="1674.15" y2="704.80" stroke="#060909" stroke-width="4.6"/>
<line x1="1657.55" y1="723.10" x2="1674.15" y2="723.10" stroke="#060909" stroke-width="4.6"/>
<polyline points="1512.70,689.90 1543.33,676.20 1573.96,686.00 1604.59,719.20 1635.22,714.30 1665.85,714.30 1696.48,724.00 1727.11,719.20 1757.74,707.70 1788.37,707.70 1819.00,708.70 1849.63,722.80 1880.26,730.60 1910.89,734.50 1941.52,733.30 1972.15,723.50" fill="none" stroke="#060909" stroke-width="4.8" stroke-linejoin="miter"/>
<circle cx="1512.70" cy="689.90" r="8.2" fill="#060909"/>
<circle cx="1543.33" cy="676.20" r="8.2" fill="#060909"/>
<circle cx="1573.96" cy="686.00" r="8.2" fill="#060909"/>
<circle cx="1604.59" cy="719.20" r="8.2" fill="#060909"/>
<circle cx="1635.22" cy="714.30" r="8.2" fill="#060909"/>
<circle cx="1665.85" cy="714.30" r="8.2" fill="#060909"/>
<circle cx="1696.48" cy="724.00" r="8.2" fill="#060909"/>
<circle cx="1727.11" cy="719.20" r="8.2" fill="#060909"/>
<circle cx="1757.74" cy="707.70" r="8.2" fill="#060909"/>
<circle cx="1788.37" cy="707.70" r="8.2" fill="#060909"/>
<circle cx="1819.00" cy="708.70" r="8.2" fill="#060909"/>
<circle cx="1849.63" cy="722.80" r="8.2" fill="#060909"/>
<circle cx="1880.26" cy="730.60" r="8.2" fill="#060909"/>
<circle cx="1910.89" cy="734.50" r="8.2" fill="#060909"/>
<circle cx="1941.52" cy="733.30" r="8.2" fill="#060909"/>
<circle cx="1972.15" cy="723.50" r="8.2" fill="#060909"/>
</svg>
</body></html>
